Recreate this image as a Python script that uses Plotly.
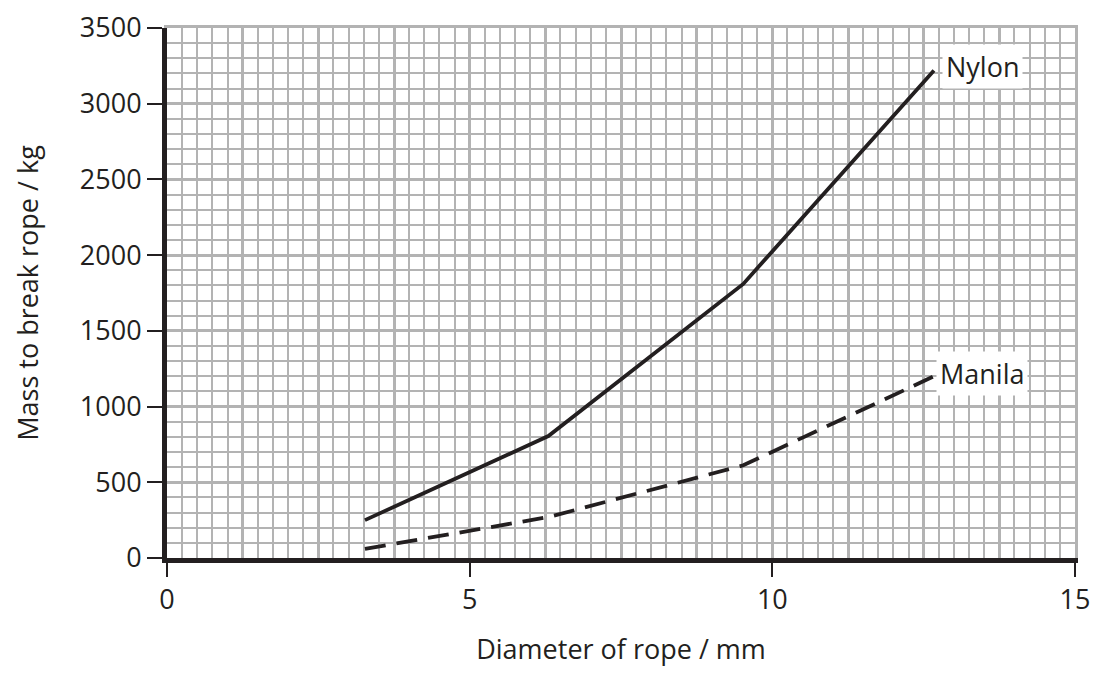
import plotly.graph_objects as go

diameter_mm = [3.27, 6.3, 9.52, 12.67]
nylon_kg = [250, 805, 1810, 3220]
manila_kg = [60, 270, 612, 1200]
x_tick_vals = [0, 5, 10, 15]
y_tick_vals = [0, 500, 1000, 1500, 2000, 2500, 3000, 3500]

FONT = "Open Sans"
INK = "#231f20"
GRID = "#b3b3b3"
FS = 27

fig = go.Figure()
# invisible trace so the grid (base) axes are drawn
fig.add_trace(go.Scatter(x=diameter_mm, y=nylon_kg, mode="lines", opacity=0,
                         hoverinfo="skip", xaxis="x", yaxis="y"))
fig.add_trace(go.Scatter(x=diameter_mm, y=nylon_kg, mode="lines", name="Nylon",
                         line=dict(color=INK, width=3.8), xaxis="x2", yaxis="y2"))
fig.add_trace(go.Scatter(x=diameter_mm, y=manila_kg, mode="lines", name="Manila",
                         line=dict(color=INK, width=3.8, dash="21px,11px"), xaxis="x2", yaxis="y2"))

fig.add_annotation(x=diameter_mm[-1], y=nylon_kg[-1], xref="x2", yref="y2", text="Nylon",
                   showarrow=False, xanchor="left", yanchor="middle", xshift=8, yshift=4,
                   bgcolor="white", font=dict(family=FONT, size=FS, color=INK), borderpad=3)
fig.add_annotation(x=diameter_mm[-1], y=manila_kg[-1], xref="x2", yref="y2", text="Manila",
                   showarrow=False, xanchor="left", yanchor="middle", xshift=2, yshift=3,
                   bgcolor="white", font=dict(family=FONT, size=FS, color=INK), borderpad=3)

fig.update_layout(
    width=1096, height=674,
    margin=dict(l=167, r=21, t=28, b=116),
    paper_bgcolor="white", plot_bgcolor="white",
    showlegend=False,
    font=dict(family=FONT, size=FS, color=INK),
    xaxis=dict(range=[0, 15], dtick=1.25, tick0=0, showgrid=True, gridcolor=GRID, gridwidth=3,
               minor=dict(dtick=0.25, showgrid=True, gridcolor=GRID, gridwidth=1.8),
               showticklabels=False, ticks="", zeroline=False, showline=True,
               linecolor=GRID, linewidth=3, mirror=True, fixedrange=True, automargin=False),
    yaxis=dict(range=[0, 3500], dtick=500, tick0=0, showgrid=True, gridcolor=GRID, gridwidth=3,
               minor=dict(dtick=100, showgrid=True, gridcolor=GRID, gridwidth=1.8),
               showticklabels=False, ticks="", zeroline=False, showline=True,
               linecolor=GRID, linewidth=3, mirror=True, fixedrange=True, automargin=False),
    xaxis2=dict(range=[0, 15], overlaying="x", side="bottom", tickvals=x_tick_vals,
                ticks="outside", ticklen=14, tickwidth=2, tickcolor=INK,
                showgrid=False, zeroline=False, showline=True, linecolor=INK, linewidth=5,
                tickfont=dict(family=FONT, size=FS, color=INK), automargin=False,
                title=dict(text="Diameter of rope / mm", standoff=25,
                           font=dict(family=FONT, size=FS, color=INK))),
    yaxis2=dict(range=[0, 3500], overlaying="y", side="left", tickvals=y_tick_vals,
                ticks="outside", ticklen=15, tickwidth=2, tickcolor=INK,
                showgrid=False, zeroline=False, showline=True, linecolor=INK, linewidth=5,
                tickfont=dict(family=FONT, size=FS, color=INK), automargin=False,
                title=dict(text="Mass to break rope / kg", standoff=35,
                           font=dict(family=FONT, size=FS, color=INK))),
)

fig.write_html("out.html", config={"displayModeBar": False},
               post_script="document.body.style.margin='0';document.body.style.overflow='hidden';")
